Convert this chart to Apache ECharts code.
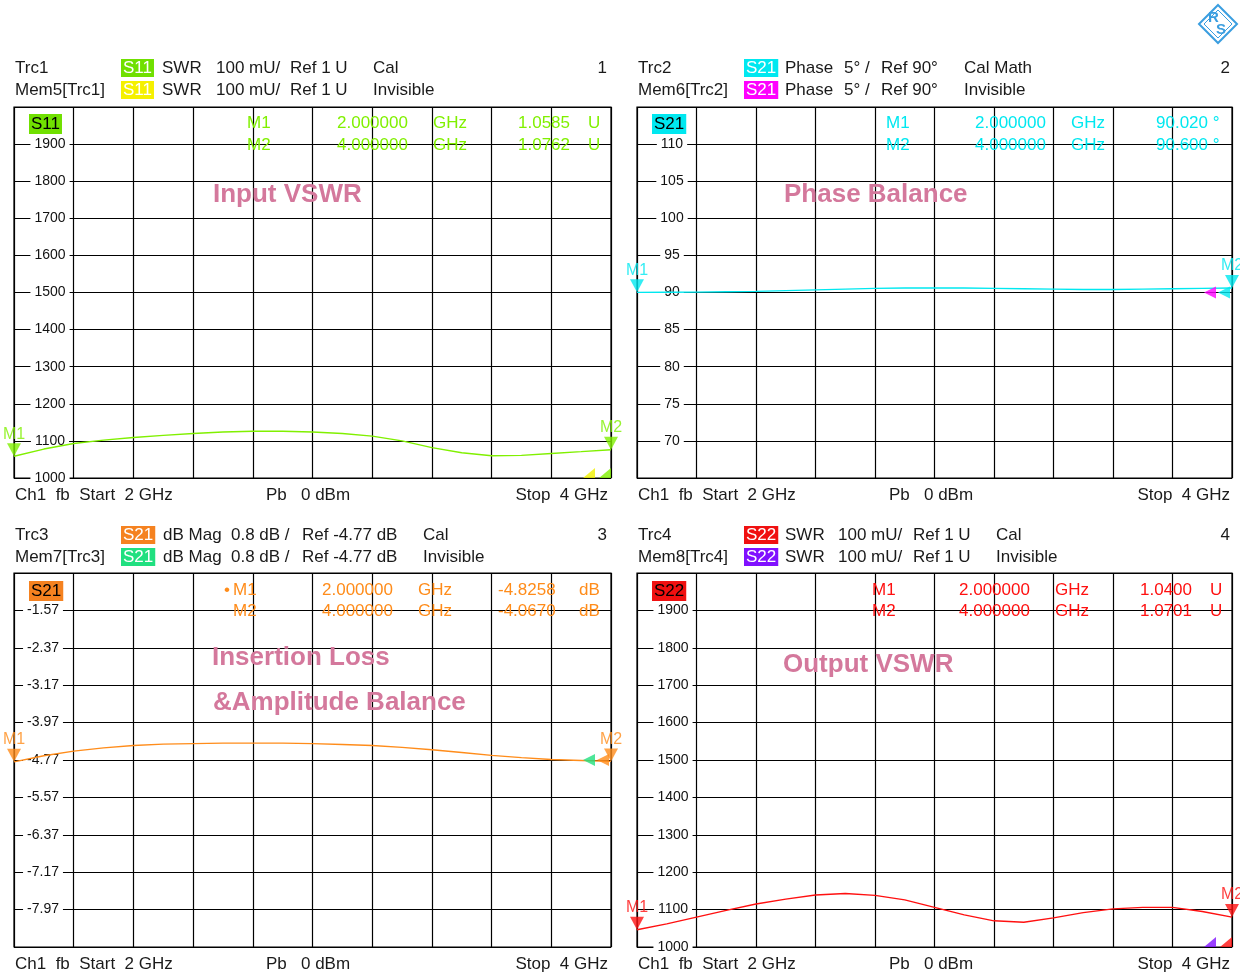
<!DOCTYPE html>
<html><head><meta charset="utf-8">
<script src="https://cdn.jsdelivr.net/npm/echarts@6/dist/echarts.min.js"></script>
<style>html,body{margin:0;padding:0;background:#fff}#c{width:1240px;height:976px}</style>
</head><body><div id="c"></div>
<script>
// ---------- DATA ----------
const freqGHz   = [2.0,2.1,2.2,2.3,2.4,2.5,2.6,2.7,2.8,2.9,3.0,3.1,3.2,3.3,3.4,3.5,3.6,3.7,3.8,3.9,4.0];
const s11Swr    = [1058.5,1078,1093,1102,1109,1115,1120,1124,1126,1126,1124,1120,1113,1100,1082,1068,1060,1061,1066,1071,1076.2];
const s21Phase  = [90.02,90.03,90.05,90.10,90.15,90.25,90.35,90.45,90.55,90.60,90.60,90.60,90.55,90.50,90.45,90.40,90.40,90.45,90.50,90.55,90.60];
const s21Mag    = [-4.81,-4.68,-4.58,-4.51,-4.46,-4.43,-4.42,-4.41,-4.41,-4.41,-4.42,-4.44,-4.46,-4.50,-4.55,-4.61,-4.67,-4.72,-4.76,-4.78,-4.80];
const s22Swr    = [1046,1062,1080,1098,1115,1128,1139,1143,1138,1126,1106,1086,1070,1066,1078,1092,1102,1106,1106,1095,1080];
const swrTicks   = [1000,1100,1200,1300,1400,1500,1600,1700,1800,1900];
const phaseTicks = [70,75,80,85,90,95,100,105,110];
const magTicks   = [-7.97,-7.17,-6.37,-5.57,-4.77,-3.97,-3.17,-2.37,-1.57];
const magGrid    = [-8.77,-7.97,-7.17,-6.37,-5.57,-4.77,-3.97,-3.17,-2.37,-1.57,-0.77];

// ---------- LAYOUT / STYLE ----------
const FONT = '"Liberation Sans", Arial, sans-serif';
const panels = [
  {grid:{left:14,top:107,width:597,height:371}, y:{min:1000,max:2000,interval:100}, labels:swrTicks, margin:36,
   values:s11Swr, color:'#80f000', memColor:'#f0f000', ref:1000, half:true, fmt:v=>String(v)},
  {grid:{left:637,top:107,width:595,height:371}, y:{min:65,max:115,interval:5}, labels:phaseTicks, margin:35,
   values:s21Phase, color:'#00e8f0', memColor:'#ff00ff', ref:90, half:false, fmt:v=>String(v)},
  {grid:{left:14,top:573,width:597,height:374}, y:{min:-8.77,max:-0.77,grid:magGrid}, labels:magTicks, margin:29,
   values:s21Mag, color:'#ff8c1a', memColor:'#20e080', ref:-4.77, half:false, fmt:v=>v.toFixed(2)},
  {grid:{left:637,top:573,width:595,height:374}, y:{min:1000,max:2000,interval:100}, labels:swrTicks, margin:36,
   values:s22Swr, color:'#ff1010', memColor:'#8010ff', ref:1000, half:true, fmt:v=>String(v)}
];

const headers = [
  {y1:68, y2:90, right:607, ch:'1', boxX:119, box:'S11', c1:'#70e000', c2:'#f5f000',
   row1:[['Trc1',15],['SWR',162],['100 mU/',216],['Ref 1 U',290],['Cal',373]],
   row2:[['Mem5[Trc1]',15],['SWR',162],['100 mU/',216],['Ref 1 U',290],['Invisible',373]]},
  {y1:68, y2:90, right:1230, ch:'2', boxX:742, box:'S21', c1:'#00e8f0', c2:'#ff00ff',
   row1:[['Trc2',638],['Phase',785],['5° /',844],['Ref 90°',881],['Cal Math',964]],
   row2:[['Mem6[Trc2]',638],['Phase',785],['5° /',844],['Ref 90°',881],['Invisible',964]]},
  {y1:535, y2:557, right:607, ch:'3', boxX:119, box:'S21', c1:'#f58220', c2:'#20e080',
   row1:[['Trc3',15],['dB Mag',163],['0.8 dB /',231],['Ref -4.77 dB',302],['Cal',423]],
   row2:[['Mem7[Trc3]',15],['dB Mag',163],['0.8 dB /',231],['Ref -4.77 dB',302],['Invisible',423]]},
  {y1:535, y2:557, right:1230, ch:'4', boxX:742, box:'S22', c1:'#f01010', c2:'#8010ff',
   row1:[['Trc4',638],['SWR',785],['100 mU/',838],['Ref 1 U',913],['Cal',996]],
   row2:[['Mem8[Trc4]',638],['SWR',785],['100 mU/',838],['Ref 1 U',913],['Invisible',996]]}
];

const readouts = [
  {tag:'S11', tagX:29, tagC:'#70e000', y1:123, y2:145, color:'#80f000',
   r1:[['M1',247],['2.000000',337],['GHz',433],['1.0585',518],['U',588]],
   r2:[['M2',247],['4.000000',337],['GHz',433],['1.0762',518],['U',588]]},
  {tag:'S21', tagX:652, tagC:'#00e8f0', y1:123, y2:145, color:'#00e8f0',
   r1:[['M1',886],['2.000000',975],['GHz',1071],['90.020 °',1156]],
   r2:[['M2',886],['4.000000',975],['GHz',1071],['90.600 °',1156]]},
  {tag:'S21', tagX:29, tagC:'#f58220', y1:590, y2:611, color:'#ff8c1a',
   r1:[['•',224],['M1',233],['2.000000',322],['GHz',418],['-4.8258',498],['dB',579]],
   r2:[['M2',233],['4.000000',322],['GHz',418],['-4.0670',498],['dB',579]]},
  {tag:'S22', tagX:652, tagC:'#f01010', y1:590, y2:611, color:'#ff1010',
   r1:[['M1',872],['2.000000',959],['GHz',1055],['1.0400',1140],['U',1210]],
   r2:[['M2',872],['4.000000',959],['GHz',1055],['1.0701',1140],['U',1210]]}
];

const footers = [
  {y:495, l:15, m:266, r:608}, {y:495, l:638, m:889, r:1230},
  {y:964, l:15, m:266, r:608}, {y:964, l:638, m:889, r:1230}
];

const notes = [
  ['Input VSWR',213,195], ['Phase Balance',784,195], ['Insertion Loss',212,658],
  ['&Amplitude Balance',213,703], ['Output VSWR',783,665]
];

// ---------- BUILD ----------
function txt(text, x, y, o) {
  o = o || {};
  const st = {text:text, fill:o.fill || '#1a1a1a', font:(o.weight||'normal') + ' ' + (o.size||17) + 'px ' + FONT,
              align:o.align || 'left', verticalAlign:'middle'};
  if (o.bg) { st.backgroundColor = o.bg; st.padding = o.pad || [1,2,0,2]; }
  const el = {type:'text', x:x, y:y, z:o.z || 20, silent:true, style:st};
  if (o.rotation) el.rotation = o.rotation;
  return el;
}

const graphics = [];
headers.forEach(h => {
  h.row1.forEach(p => graphics.push(txt(p[0], p[1], h.y1)));
  h.row2.forEach(p => graphics.push(txt(p[0], p[1], h.y2)));
  graphics.push(txt(h.box, h.boxX + 2, h.y1, {fill:'#fff', bg:h.c1}));
  graphics.push(txt(h.box, h.boxX + 2, h.y2, {fill:'#fff', bg:h.c2}));
  graphics.push(txt(h.ch, h.right, h.y1, {align:'right'}));
});
readouts.forEach(r => {
  graphics.push(txt(r.tag, r.tagX, r.y1 + 1, {fill:'#000', bg:r.tagC, pad:[2,2,1,2]}));
  r.r1.forEach(p => graphics.push(txt(p[0], p[1], r.y1, {fill:r.color})));
  r.r2.forEach(p => graphics.push(txt(p[0], p[1], r.y2, {fill:r.color})));
});
footers.forEach(f => {
  graphics.push(txt('Ch1  fb  Start  2 GHz', f.l, f.y));
  graphics.push(txt('Pb   0 dBm', f.m, f.y));
  graphics.push(txt('Stop  4 GHz', f.r, f.y, {align:'right'}));
});
notes.forEach(n => graphics.push(txt(n[0], n[1], n[2], {fill:'#d4789c', size:26, weight:'bold'})));
// R&S logo
graphics.push({type:'polygon', silent:true, shape:{points:[[1218,5],[1237,24],[1218,43],[1199,24]]},
  style:{fill:'none', stroke:'#3a9ee0', lineWidth:2}});
graphics.push({type:'polygon', silent:true, shape:{points:[[1218,10],[1232,24],[1218,38],[1204,24]]},
  style:{fill:'none', stroke:'#3a9ee0', lineWidth:1}});
graphics.push(txt('R', 1208, 18, {fill:'#3a9ee0', size:15, weight:'bold'}));
graphics.push(txt('S', 1216, 30, {fill:'#3a9ee0', size:15, weight:'bold'}));

const grids = [], xAxes = [], yAxes = [], series = [];
const leftTri = 'path://M10,0 L10,10 L0,10 Z';
panels.forEach((p, i) => {
  grids.push(Object.assign({show:true, borderColor:'#000', borderWidth:1.2, backgroundColor:'#fff'}, p.grid));
  xAxes.push({type:'value', gridIndex:i, min:2, max:4, interval:0.2,
    axisLine:{show:false}, axisTick:{show:false}, axisLabel:{show:false},
    splitLine:{show:true, lineStyle:{color:'#000', width:1.2}}});
  const y = {type:'value', gridIndex:i, min:p.y.min, max:p.y.max,
    axisLine:{show:false},
    axisTick:{show:false},
    axisLabel:{show:true, inside:true, align:'center', margin:p.margin, customValues:p.labels,
      color:'#111', fontSize:14, fontFamily:FONT, backgroundColor:'#fff', padding:[0,4],
      formatter:p.fmt},
    splitLine:{show:true, lineStyle:{color:'#000', width:1.2}}};
  if (p.y.grid) y.axisTick.customValues = p.y.grid; else y.interval = p.y.interval;
  yAxes.push(y);

  series.push({type:'line', xAxisIndex:i, yAxisIndex:i, showSymbol:false, z:3,
    lineStyle:{color:p.color, width:1.4}, data:freqGHz.map((f,k)=>[f, p.values[k]])});
  const last = freqGHz.length - 1;
  // reference-level indicators
  series.push({type:'scatter', xAxisIndex:i, yAxisIndex:i, z:4, silent:true,
    data:[
      {value:[freqGHz[last], p.ref], symbol:p.half?leftTri:'triangle', symbolRotate:p.half?0:90,
       symbolSize:p.half?[12,10]:[12,12], symbolOffset:p.half?[-22,-5]:[-22,0], itemStyle:{color:p.memColor}},
      {value:[freqGHz[last], p.ref], symbol:p.half?leftTri:'triangle', symbolRotate:p.half?0:90,
       symbolSize:p.half?[12,10]:[12,12], symbolOffset:p.half?[-6,-5]:[-8,0], itemStyle:{color:p.color}}
    ]});
  // markers M1 / M2
  series.push({type:'scatter', xAxisIndex:i, yAxisIndex:i, z:5, silent:true,
    symbol:'triangle', symbolRotate:180, symbolSize:[14,13], symbolOffset:[0,'-50%'],
    itemStyle:{color:p.color},
    label:{show:true, position:'top', distance:1, color:p.color, fontSize:16, fontFamily:FONT,
      formatter:q=>q.value[2]},
    data:[[freqGHz[0], p.values[0], 'M1'], [freqGHz[last], p.values[last], 'M2']]});
});

const chart = echarts.init(document.getElementById('c'), null, {renderer:'canvas'});
chart.setOption({
  animation:false, backgroundColor:'#fff',
  grid:grids, xAxis:xAxes, yAxis:yAxes, series:series, graphic:graphics
});
</script>
</body></html>
